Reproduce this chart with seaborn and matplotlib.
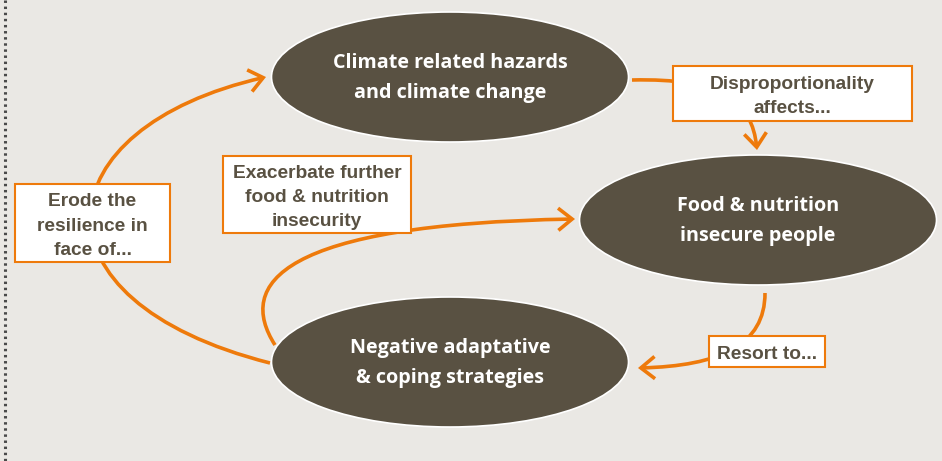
import seaborn as sns
import matplotlib.pyplot as plt
from matplotlib.patches import Ellipse, FancyArrowPatch, Rectangle
from matplotlib.path import Path

# nodes of the cycle
node_labels = [
    "Climate related hazards\nand climate change",
    "Food & nutrition\ninsecure people",
    "Negative adaptative\n& coping strategies",
]
# link labels
link_labels = [
    "Disproportionality\naffects...",
    "Resort to...",
    "Exacerbate further\nfood & nutrition\ninsecurity",
    "Erode the\nresilience in\nface of...",
]

# layout (pixel coords, y down)
node_centers = [(450, 77), (758, 220), (450, 362)]
node_size = (357, 130)
box_rects = [(673, 66, 239, 55), (709, 336, 116, 31), (223, 156, 188, 77), (15, 184, 155, 78)]
link_paths = [
    [(632, 80), (720, 78), (752, 100), (757, 150)],
    [(765, 293), (765, 345), (720, 366), (638, 368)],
    [(275, 345), (236, 284), (280, 224), (575, 219)],
    [(270, 363), (22, 300), (42, 128), (266, 77)],
]

BG = "#EAE8E4"
BROWN = "#595142"
ORANGE = "#EE7A0B"


def main():
    sns.set_theme(style="white")
    fig = plt.figure(figsize=(9.42, 4.61), dpi=100, facecolor=BG)
    ax = fig.add_axes([0, 0, 1, 1])
    ax.set_facecolor(BG)
    ax.set_xlim(0, 942)
    ax.set_ylim(461, 0)
    ax.axis("off")

    ax.plot([4.5, 4.5], [0, 461], color="#4a4a4a", lw=2.2, ls=(0, (0.8, 1.2)),
            solid_capstyle="butt", dash_capstyle="butt")

    for pts in link_paths:
        path = Path(pts, [Path.MOVETO, Path.CURVE4, Path.CURVE4, Path.CURVE4])
        arr = FancyArrowPatch(path=path, arrowstyle="->,head_length=0.5,head_width=0.4",
                              mutation_scale=20, color=ORANGE, lw=2.6, zorder=1,
                              shrinkA=0, shrinkB=0, joinstyle="miter", capstyle="butt")
        ax.add_patch(arr)

    for (cx, cy), label in zip(node_centers, node_labels):
        ax.add_patch(Ellipse((cx, cy), node_size[0], node_size[1], facecolor=BROWN,
                             edgecolor="white", lw=1.2, zorder=2))
        ax.text(cx, cy + 1, label, color="white", fontsize=14.2, fontweight="bold",
                family="Open Sans", ha="center", va="center", linespacing=1.62, zorder=3)

    for (x, y, w, h), label in zip(box_rects, link_labels):
        ax.add_patch(Rectangle((x, y), w, h, facecolor="white", edgecolor=ORANGE,
                               lw=1.5, zorder=4))
        ax.text(x + w / 2, y + h / 2 + 3, label, color=BROWN, fontsize=13.8, fontweight="bold",
                family="Liberation Sans", ha="center", va="center", linespacing=1.55, zorder=5)

    fig.savefig("out.png", dpi=100, facecolor=BG)


if __name__ == "__main__":
    main()
